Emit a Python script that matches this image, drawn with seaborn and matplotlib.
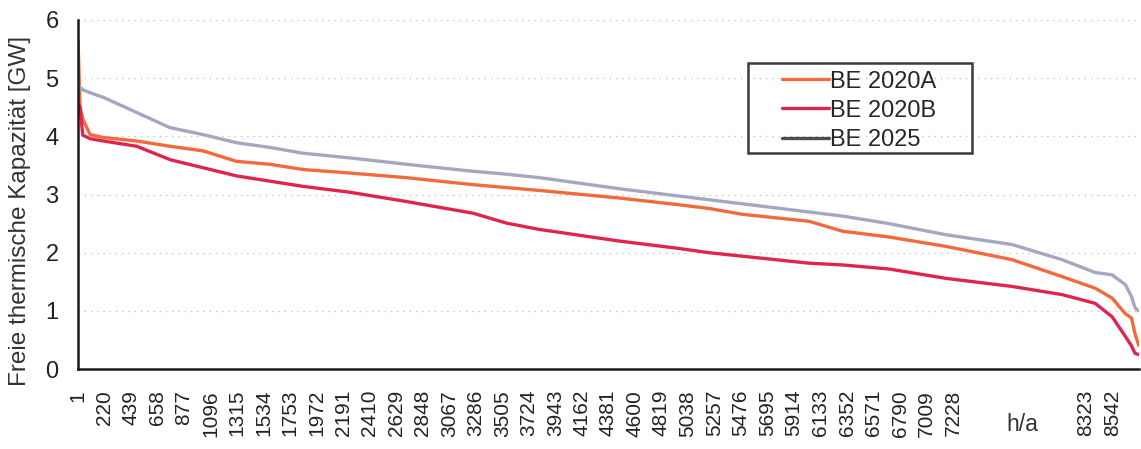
import numpy as np
import pandas as pd
import seaborn as sns
import matplotlib.pyplot as plt
from matplotlib.lines import Line2D
from matplotlib.patches import Rectangle

# Stunden im Jahr (Dauerlinie)
hours = [1, 17, 40, 100, 210, 485, 760, 1034, 1310, 1585, 1859, 2244, 2712,
         3261, 3536, 3811, 4471, 4939, 5213, 5488, 5763, 6038, 6313, 6698,
         7165, 7715, 8127, 8400, 8540, 8650, 8700, 8730, 8760]

be_2020a = [5.65, 4.5, 4.3, 4.03, 3.98, 3.92, 3.83, 3.75, 3.57, 3.52, 3.43,
            3.37, 3.29, 3.17, 3.12, 3.07, 2.94, 2.83, 2.76, 2.66, 2.60, 2.54,
            2.37, 2.27, 2.11, 1.88, 1.59, 1.39, 1.22, 0.95, 0.88, 0.60, 0.41]

be_2020b = [4.58, 4.5, 4.02, 3.96, 3.92, 3.83, 3.60, 3.46, 3.32, 3.23, 3.14,
            3.04, 2.88, 2.68, 2.51, 2.40, 2.20, 2.08, 2.00, 1.94, 1.88, 1.82,
            1.79, 1.72, 1.56, 1.42, 1.28, 1.13, 0.90, 0.56, 0.40, 0.27, 0.25]

be_2025 = [4.9, 4.85, 4.8, 4.75, 4.67, 4.41, 4.15, 4.03, 3.89, 3.81, 3.71,
           3.63, 3.52, 3.40, 3.35, 3.29, 3.10, 2.98, 2.91, 2.84, 2.77, 2.70,
           2.63, 2.50, 2.31, 2.14, 1.88, 1.66, 1.62, 1.45, 1.25, 1.05, 1.00]

series_names = ['BE 2020A', 'BE 2020B', 'BE 2025']
colors = ['#f26a3c', '#e1244e', '#a6a6c0']
legend_colors = ['#f26a3c', '#e1244e', '#4d4d4d']

xtick_pos = list(range(1, 8543, 219))
xtick_lab = [str(t) for t in xtick_pos]
for hidden in ['7447', '7666', '7885', '8104']:
    xtick_lab[xtick_lab.index(hidden)] = ''

df = pd.DataFrame({
    'h': hours * 3,
    'GW': be_2020a + be_2020b + be_2025,
    'Szenario': sum([[n] * len(hours) for n in series_names], []),
})

sns.set_theme(style='white')
plt.rcParams['font.family'] = ['Liberation Sans', 'DejaVu Sans']

fig = plt.figure(figsize=(11.41, 4.49), dpi=100)
ax = fig.add_axes([0.0684, 0.178, 0.9296, 0.7775])

sns.lineplot(data=df, x='h', y='GW', hue='Szenario', palette=colors,
             linewidth=2.4, ax=ax, legend=False)

ax.set_xlim(1, 8760)
ax.set_ylim(0, 6)
ax.set_yticks(range(0, 7))
ax.set_yticklabels([str(i) for i in range(0, 7)], fontsize=17, color='#222222')
ax.set_xticks(xtick_pos)
ax.set_xticklabels(xtick_lab, rotation=90, fontsize=15, color='#222222')
ax.tick_params(axis='x', length=0, pad=15)
ax.tick_params(axis='y', length=0, pad=14)

for v in range(1, 7):
    ax.axhline(v, color='#bdbdbd', lw=0.9, ls=(0, (1, 4)), zorder=0)

for s in ['top', 'right']:
    ax.spines[s].set_visible(False)
for s in ['left', 'bottom']:
    ax.spines[s].set_color('#1a1a1a')
    ax.spines[s].set_linewidth(1.8)

ax.set_xlabel('')
ax.set_ylabel('Freie thermische Kapazität [GW]', fontsize=17.5, color='#333333')
ax.yaxis.set_label_coords(-0.044, 0.453)

ax.text(7795, -0.16, 'h/a', transform=ax.get_xaxis_transform(),
        fontsize=16.5, color='#333333', ha='center', va='center')

# Legende mit eigenem Rahmen
ax.add_patch(Rectangle((0.6315, 0.619), 0.2111, 0.258, transform=ax.transAxes,
                       fill=False, edgecolor='#3a3a3a', lw=1.8, zorder=5))
handles = [Line2D([0], [0], color=c, lw=2.4) for c in legend_colors]
ax.legend(handles, series_names, loc='upper left', bbox_to_anchor=(0.6635, 0.855),
          frameon=False, fontsize=17, handlelength=2.0, handletextpad=0.05,
          labelspacing=0.3, borderpad=0, borderaxespad=0)

fig.savefig('out.png', dpi=100)
